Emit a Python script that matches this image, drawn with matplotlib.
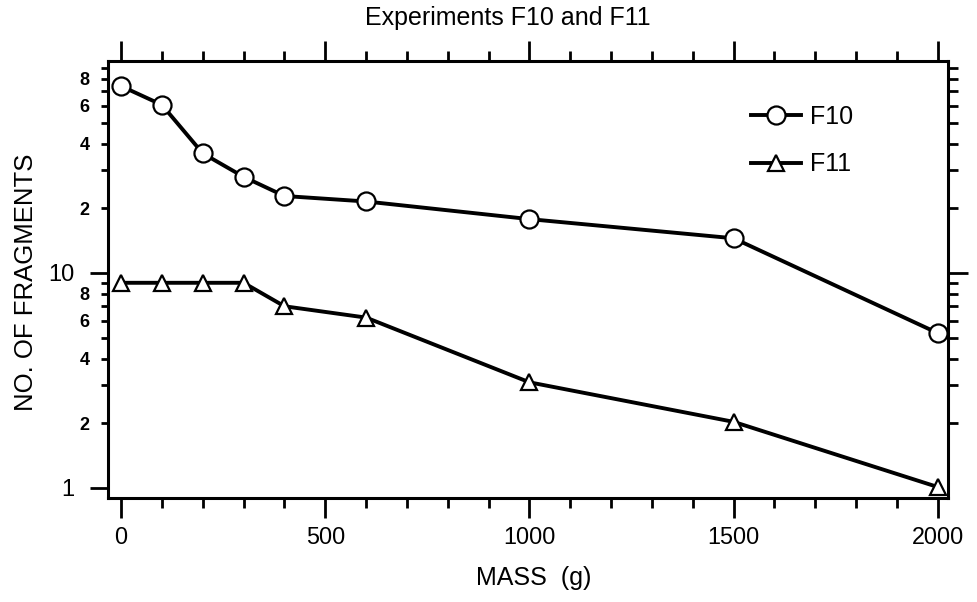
import matplotlib
matplotlib.use('Agg')
import matplotlib.pyplot as plt
from matplotlib.ticker import FixedLocator, FuncFormatter, NullFormatter

# ---- data ----
mass = [0, 100, 200, 300, 400, 600, 1000, 1500, 2000]
f10 = [74, 60.5, 36, 28, 22.8, 21.5, 17.8, 14.5, 5.25]
f11 = [9.0, 9.0, 9.0, 9.0, 7.0, 6.2, 3.1, 2.03, 1.01]
series_labels = ['F10', 'F11']
title = 'Experiments F10 and F11'
xlabel = 'MASS  (g)'
ylabel = 'NO. OF FRAGMENTS'
x_major = [0, 500, 1000, 1500, 2000]
x_minor = [v for v in range(100, 2000, 100) if v % 500 != 0]
y_major = [1, 10]
y_minor = [2, 3, 4, 5, 6, 7, 8, 9, 20, 30, 40, 50, 60, 70, 80, 90]
y_minor_text = {2: '2', 4: '4', 6: '6', 8: '8', 20: '2', 40: '4', 60: '6', 80: '8'}

plt.rcParams['font.family'] = ['Liberation Sans', 'DejaVu Sans']

fig = plt.figure(figsize=(9.77, 6.02), dpi=100)
ax = fig.add_axes([108 / 977, 1 - 498 / 602, 840 / 977, 437 / 602])

ax.plot(mass, f10, '-o', color='black', lw=2.8, ms=13, mfc='white',
        mec='black', mew=1.6, label=series_labels[0], clip_on=False, zorder=3)
ax.plot(mass, f11, '-^', color='black', lw=2.8, ms=11.5, mfc='white',
        mec='black', mew=1.6, label=series_labels[1], clip_on=False, zorder=3)

ax.set_yscale('log')
ax.set_xlim(-32, 2025)
ax.set_ylim(0.898, 96.8)

for s in ax.spines.values():
    s.set_linewidth(2.2)

# x ticks (bottom + top)
ax.xaxis.set_major_locator(FixedLocator(x_major))
ax.xaxis.set_minor_locator(FixedLocator(x_minor))
ax.tick_params(axis='x', which='both', direction='out', bottom=True, top=True,
               labeltop=False, width=2)
ax.tick_params(axis='x', which='major', length=14.4, labelsize=16.8, pad=6)
ax.tick_params(axis='x', which='minor', length=7.2)

# left y ticks
ax.yaxis.set_major_locator(FixedLocator(y_major))
ax.yaxis.set_minor_locator(FixedLocator(y_minor))
ax.yaxis.set_major_formatter(FuncFormatter(lambda v, p: '%d' % round(v)))
ax.yaxis.set_minor_formatter(FuncFormatter(lambda v, p: y_minor_text.get(int(round(v)), '')))
ax.tick_params(axis='y', which='both', direction='out', left=True, right=False, width=2)
ax.tick_params(axis='y', which='major', length=13, labelsize=17, pad=11)
ax.tick_params(axis='y', which='minor', length=5, labelsize=13, pad=8.5)
plt.setp(ax.yaxis.get_minorticklabels(), fontweight='bold')

# right y ticks
ax2 = ax.twinx()
ax2.set_yscale('log')
ax2.set_ylim(ax.get_ylim())
ax2.yaxis.set_major_locator(FixedLocator([10]))
ax2.yaxis.set_minor_locator(FixedLocator(y_minor))
ax2.yaxis.set_major_formatter(NullFormatter())
ax2.yaxis.set_minor_formatter(NullFormatter())
ax2.tick_params(axis='y', which='both', direction='out', width=2)
ax2.tick_params(axis='y', which='major', length=14.4)
ax2.tick_params(axis='y', which='minor', length=7.2)
for s in ax2.spines.values():
    s.set_visible(False)

ax.legend(loc='upper left', bbox_to_anchor=(0.766, 0.9), frameon=False,
          fontsize=18, handlelength=2.0, handletextpad=0.33,
          labelspacing=0.95, borderpad=0, borderaxespad=0)

ax.set_ylabel(ylabel, fontsize=18.5)
ax.yaxis.set_label_coords(-0.0833, 0.493)
ax.set_xlabel(xlabel, fontsize=18)
ax.xaxis.set_label_coords(0.507, -0.155)

fig.text(508 / 977, 1 - 25 / 602, title, ha='center', va='baseline', fontsize=18)

fig.savefig('out.png', dpi=100)
